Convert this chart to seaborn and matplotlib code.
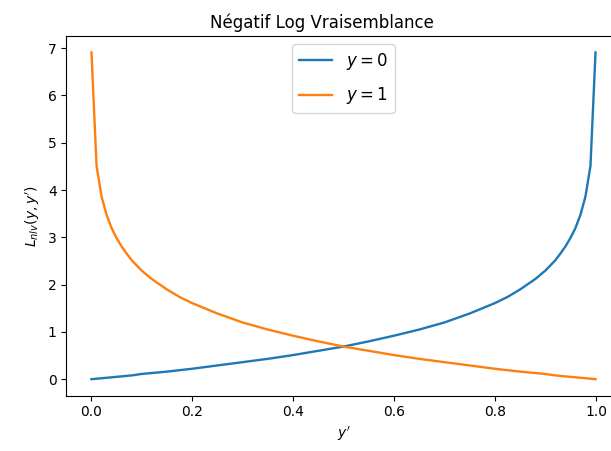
import matplotlib
matplotlib.use("Agg")
import matplotlib.pyplot as plt
import seaborn as sns
import pandas as pd

# predicted probability y'
y_pred = [0.001, 0.011, 0.021, 0.031, 0.041, 0.051, 0.061, 0.071, 0.081, 0.1,
          0.12, 0.15, 0.175, 0.2, 0.25, 0.3, 0.35, 0.4, 0.45, 0.5,
          0.55, 0.6, 0.65, 0.7, 0.75, 0.8, 0.825, 0.85, 0.88, 0.9,
          0.919, 0.929, 0.939, 0.949, 0.959, 0.969, 0.979, 0.989, 0.999]

# loss when true label y = 0
loss_y0 = [0.00, 0.01, 0.02, 0.03, 0.04, 0.05, 0.06, 0.07, 0.08, 0.11,
           0.13, 0.16, 0.19, 0.22, 0.29, 0.36, 0.43, 0.51, 0.60, 0.69,
           0.80, 0.92, 1.05, 1.20, 1.39, 1.61, 1.74, 1.90, 2.12, 2.30,
           2.51, 2.65, 2.80, 2.98, 3.19, 3.47, 3.86, 4.51, 6.91]

# loss when true label y = 1
loss_y1 = [6.91, 4.51, 3.86, 3.47, 3.19, 2.98, 2.80, 2.65, 2.51, 2.30,
           2.12, 1.90, 1.74, 1.61, 1.39, 1.20, 1.05, 0.92, 0.80, 0.69,
           0.60, 0.51, 0.43, 0.36, 0.29, 0.22, 0.19, 0.16, 0.13, 0.11,
           0.08, 0.07, 0.06, 0.05, 0.04, 0.03, 0.02, 0.01, 0.00]

df = pd.concat([
    pd.DataFrame({"yp": y_pred, "loss": loss_y0, "label": "$y = 0$"}),
    pd.DataFrame({"yp": y_pred, "loss": loss_y1, "label": "$y = 1$"}),
])

fig = plt.figure(figsize=(6.11, 4.51), dpi=100)
# right edge of the axes runs past the figure, as in the cropped original
ax = fig.add_axes([0.1085, 0.123, 0.9074, 0.797])

sns.lineplot(data=df, x="yp", y="loss", hue="label",
             palette=["#1f77b4", "#ff7f0e"], linewidth=1.7, ax=ax)

ax.set_title("Négatif Log Vraisemblance", x=0.462)
ax.set_xlabel("$y'$")
ax.set_ylabel("$L_{nlv}(y, y')$")
ax.legend(loc="upper center", bbox_to_anchor=(0.5, 1.0),
          fontsize=12, labelspacing=0.8)

fig.savefig("out.png", dpi=100)
plt.close(fig)
